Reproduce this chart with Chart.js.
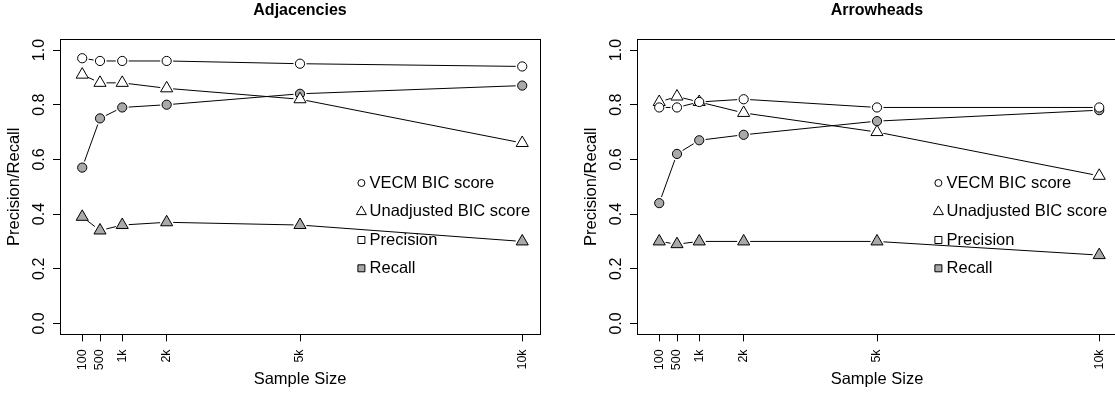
<!DOCTYPE html>
<html><head><meta charset="utf-8">
<script src="https://cdn.jsdelivr.net/npm/chart.js@4"></script>
<style>
html,body{margin:0;padding:0;background:#fff;overflow:hidden;width:1115px;height:393px;}
.panel{position:absolute;top:0;width:557px;height:393px;}
</style></head><body>
<div class="panel" style="left:0"><canvas id="c1" width="557" height="393"></canvas></div>
<div class="panel" style="left:577px"><canvas id="c2" width="557" height="393"></canvas></div>
<script>
// ---- data ----
const sampleSizes = [100, 500, 1000, 2000, 5000, 10000];
const xTickLabels = ['100', '500', '1k', '2k', '5k', '10k'];
const yTicks = [0, 0.2, 0.4, 0.6, 0.8, 1.0];
const yTickLabels = ['0.0', '0.2', '0.4', '0.6', '0.8', '1.0'];

const adjVecmPrecision  = [0.97, 0.96, 0.96, 0.96, 0.95, 0.94];
const adjVecmRecall     = [0.57, 0.75, 0.79, 0.80, 0.84, 0.87];
const adjUnadjPrecision = [0.91, 0.88, 0.88, 0.86, 0.82, 0.66];
const adjUnadjRecall    = [0.39, 0.34, 0.36, 0.37, 0.36, 0.30];

const arrVecmPrecision  = [0.79, 0.79, 0.81, 0.82, 0.79, 0.79];
const arrVecmRecall     = [0.44, 0.62, 0.67, 0.69, 0.74, 0.78];
const arrUnadjPrecision = [0.81, 0.83, 0.81, 0.77, 0.70, 0.54];
const arrUnadjRecall    = [0.30, 0.29, 0.30, 0.30, 0.30, 0.25];

const legendLabels = ['VECM BIC score', 'Unadjusted BIC score', 'Precision', 'Recall'];
const titles = ['Adjacencies', 'Arrowheads'];
const xTitle = 'Sample Size';
const yTitle = 'Precision/Recall';

// ---- style ----
const FONT = "'Liberation Sans', Arial, Helvetica, sans-serif";
const GRAY = '#a9a9a9';
Chart.defaults.font.family = FONT;
Chart.defaults.color = '#000';

function pts(vals) { return sampleSizes.map((x, i) => ({ x: x, y: vals[i] })); }

function ds(vals, style, fill) {
  return {
    data: pts(vals),
    showLine: false,
    pointStyle: style,
    pointRadius: style === 'triangle' ? 7 : 4.6,
    pointHoverRadius: style === 'triangle' ? 7 : 4.6,
    pointBackgroundColor: fill,
    pointBorderColor: '#000',
    pointBorderWidth: 1,
    borderColor: '#000',
    backgroundColor: fill
  };
}

const gapLines = {
  id: 'gapLines',
  beforeDatasetsDraw(chart) {
    const ctx = chart.ctx;
    const gap = 6.5;
    ctx.save();
    ctx.strokeStyle = '#000';
    ctx.lineWidth = 1;
    chart.data.datasets.forEach((d, i) => {
      const el = chart.getDatasetMeta(i).data;
      ctx.beginPath();
      for (let k = 0; k < el.length - 1; k++) {
        const a = el[k], b = el[k + 1];
        const dx = b.x - a.x, dy = b.y - a.y, len = Math.hypot(dx, dy);
        if (len <= 2 * gap) continue;
        const ux = dx / len, uy = dy / len;
        ctx.moveTo(a.x + ux * gap, a.y + uy * gap);
        ctx.lineTo(b.x - ux * gap, b.y - uy * gap);
      }
      ctx.stroke();
    });
    ctx.restore();
  }
};

const decor = {
  id: 'decor',
  afterDraw(chart, args, opts) {
    const ctx = chart.ctx;
    const a = chart.chartArea;
    ctx.save();
    // frame
    ctx.strokeStyle = '#000';
    ctx.lineWidth = 1;
    ctx.strokeRect(Math.round(a.left) + 0.5, Math.round(a.top) + 0.5,
                   Math.round(a.right - a.left), Math.round(a.bottom - a.top));
    // title
    ctx.fillStyle = '#000';
    ctx.font = 'bold 16px ' + FONT;
    ctx.textAlign = 'center';
    ctx.textBaseline = 'middle';
    ctx.fillText(opts.title, (a.left + a.right) / 2, 11);
    // legend
    ctx.font = '16.5px ' + FONT;
    ctx.textAlign = 'left';
    const sx = a.left + 301.4, tx = a.left + 309.6;
    const rows = [143.9, 172.6, 200.9, 229.2];
    const styles = [['circle', '#fff'], ['triangle', '#fff'], ['rect', '#fff'], ['rect', GRAY]];
    legendLabels.forEach((lab, i) => {
      const y = a.top + rows[i];
      const [st, fill] = styles[i];
      ctx.beginPath();
      if (st === 'circle') {
        ctx.arc(sx, y, 3.5, 0, Math.PI * 2);
      } else if (st === 'triangle') {
        const r = 5.8;
        ctx.moveTo(sx, y - r);
        ctx.lineTo(sx + r * Math.sin(2 * Math.PI / 3), y - r * Math.cos(2 * Math.PI / 3));
        ctx.lineTo(sx + r * Math.sin(4 * Math.PI / 3), y - r * Math.cos(4 * Math.PI / 3));
        ctx.closePath();
      } else {
        ctx.rect(sx - 3.5, y - 3.5, 7, 7);
      }
      ctx.fillStyle = fill;
      ctx.fill();
      ctx.strokeStyle = '#000';
      ctx.stroke();
      ctx.fillStyle = '#000';
      ctx.fillText(lab, tx, y);
    });
    ctx.restore();
  }
};

function makeChart(id, title, vp, vr, up, ur) {
  return new Chart(document.getElementById(id), {
    type: 'line',
    data: {
      datasets: [
        ds(vp, 'circle', '#fff'),
        ds(up, 'triangle', '#fff'),
        ds(vr, 'circle', GRAY),
        ds(ur, 'triangle', GRAY)
      ]
    },
    plugins: [gapLines, decor],
    options: {
      responsive: false,
      animation: false,
      devicePixelRatio: 1,
      layout: { padding: { top: 39.1, right: 17, left: 0, bottom: 0 } },
      plugins: {
        legend: { display: false },
        title: { display: false },
        tooltip: { enabled: false },
        decor: { title: title }
      },
      scales: {
        x: {
          type: 'linear',
          min: -400, max: 10400,
          afterBuildTicks: s => { s.ticks = sampleSizes.map(v => ({ value: v })); },
          afterFit: s => { s.height = 58.6; },
          ticks: {
            autoSkip: false, minRotation: 90, maxRotation: 90, padding: 8,
            font: { size: 12.5 }, color: '#000',
            callback: (v) => { const i = sampleSizes.indexOf(v); return i >= 0 ? xTickLabels[i] : ''; }
          },
          grid: { drawOnChartArea: false, drawTicks: true, tickLength: 7, color: '#000', lineWidth: 1 },
          border: { display: false },
          title: { display: true, text: xTitle, font: { size: 16.5 }, color: '#000', padding: { top: 0, bottom: 4 } }
        },
        y: {
          type: 'linear',
          min: -0.04, max: 1.04,
          afterBuildTicks: s => { s.ticks = yTicks.map(v => ({ value: v })); },
          afterFit: s => { s.width = 60; },
          ticks: {
            minRotation: 90, maxRotation: 90, padding: 2, crossAlign: 'center',
            font: { size: 16 }, color: '#000',
            callback: (v) => { const i = yTicks.findIndex(t => Math.abs(t - v) < 1e-9); return i >= 0 ? yTickLabels[i] : ''; }
          },
          grid: { drawOnChartArea: false, drawTicks: true, tickLength: 7, color: '#000', lineWidth: 1 },
          border: { display: false },
          title: { display: true, text: yTitle, font: { size: 16.5 }, color: '#000', padding: { top: 5, bottom: 0 } }
        }
      }
    }
  });
}

makeChart('c1', titles[0], adjVecmPrecision, adjVecmRecall, adjUnadjPrecision, adjUnadjRecall);
makeChart('c2', titles[1], arrVecmPrecision, arrVecmRecall, arrUnadjPrecision, arrUnadjRecall);
</script>
</body></html>
